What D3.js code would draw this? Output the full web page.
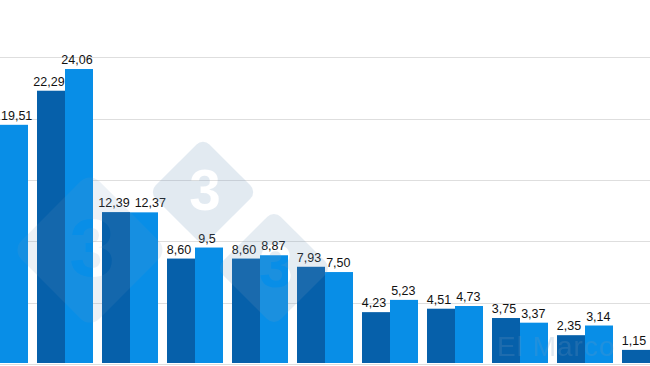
<!DOCTYPE html>
<html>
<head>
<meta charset="utf-8">
<script src="https://cdn.jsdelivr.net/npm/d3@7"></script>
<style>
  html, body { margin: 0; padding: 0; background: #fff; overflow: hidden; }
  svg { display: block; }
</style>
</head>
<body>
<svg id="chart" width="650" height="366"></svg>
<script>
// ---- data ----
const categories = ["G1", "G2", "G3", "G4", "G5", "G6", "G7", "G8", "G9", "G10", "G11"];
const seriesNames = ["serie1", "serie2"];
const serie1 = [24.5, 22.29, 12.39, 8.60, 8.60, 7.93, 4.23, 4.51, 3.75, 2.35, 1.15];
const serie2 = [19.51, 24.06, 12.37, 9.5, 8.87, 7.50, 5.23, 4.73, 3.37, 3.14, 1.7];
const labels1 = ["24,5", "22,29", "12,39", "8,60", "8,60", "7,93", "4,23", "4,51", "3,75", "2,35", "1,15"];
const labels2 = ["19,51", "24,06", "12,37", "9,5", "8,87", "7,50", "5,23", "4,73", "3,37", "3,14", "1,7"];
const yTicks = [0, 5, 10, 15, 20, 25, 30];
const watermarkText = "El Marco";

const W = 650, H = 366;
const svg = d3.select("#chart");
const colors = { serie1: "#0660aa", serie2: "#088ee7" };
const FONT = "Liberation Sans, Arial, sans-serif";

const y = d3.scaleLinear().domain([0, 30]).range([364, -3.8]);
const x = d3.scaleBand().domain(categories).range([-28, 678]).paddingInner(9 / 65).paddingOuter(0);
const xs = d3.scaleBand().domain(seriesNames).range([0, x.bandwidth()]);

// gridlines
svg.append("g").selectAll("line").data(yTicks).join("line")
  .attr("x1", 0).attr("x2", W)
  .attr("y1", d => Math.round(y(d)) + 0.5).attr("y2", d => Math.round(y(d)) + 0.5)
  .attr("stroke", "#dedede").attr("stroke-width", 1.2);

const rows = categories.map((c, i) => ({
  c,
  vals: [
    { s: "serie1", v: serie1[i], l: labels1[i] },
    { s: "serie2", v: serie2[i], l: labels2[i] }
  ]
}));

const g = svg.append("g").selectAll("g").data(rows).join("g")
  .attr("transform", d => `translate(${x(d.c)},0)`);

g.selectAll("rect").data(d => d.vals).join("rect")
  .attr("x", d => xs(d.s))
  .attr("width", xs.bandwidth())
  .attr("y", d => y(d.v))
  .attr("height", d => y(0) - 1 - y(d.v))
  .attr("fill", d => colors[d.s]);

const labelLayer = svg.append("g");
rows.forEach(r => {
  const texts = r.vals.map(d => {
    const cx = x(r.c) + xs(d.s) + xs.bandwidth() / 2 - 2;
    const t = labelLayer.append("text")
      .attr("y", y(d.v) - 5)
      .attr("text-anchor", "middle")
      .attr("font-family", FONT)
      .attr("font-size", 12.5)
      .attr("fill", "#111")
      .text(d.l);
    const w = t.node().getComputedTextLength();
    return { t, cx, w, yy: y(d.v) - 5, barCx: cx + 2 };
  });
  texts.forEach(o => {
    if (o.barCx >= 0 && o.cx - o.w / 2 < 1) o.cx = 1 + o.w / 2;
  });
  const [a, b] = texts;
  if (Math.abs(a.yy - b.yy) < 13) {
    const gap = (b.cx - b.w / 2) - (a.cx + a.w / 2);
    if (gap < 5) b.cx += 5 - gap;
  }
  texts.forEach(o => o.t.attr("x", o.cx));
});

// watermark (logo diamonds with "3" cut out, and text)
const defs = svg.append("defs");
const diamonds = [
  { cx: 90, cy: 250, r: 78, op: 0.13 },
  { cx: 203, cy: 192, r: 54, op: 0.2 },
  { cx: 274, cy: 268, r: 58, op: 0.18 }
];
diamonds.forEach((d, i) => {
  const mask = defs.append("mask").attr("id", "wm" + i);
  mask.append("rect").attr("width", W).attr("height", H).attr("fill", "black");
  const s = d.r * Math.SQRT1_2 * 2;
  mask.append("rect")
    .attr("x", -s / 2).attr("y", -s / 2).attr("width", s).attr("height", s)
    .attr("rx", s * 0.12)
    .attr("transform", `translate(${d.cx},${d.cy}) rotate(45)`)
    .attr("fill", "white");
  mask.append("text")
    .attr("x", d.cx + 2).attr("y", d.cy + d.r * 0.33)
    .attr("text-anchor", "middle")
    .attr("font-family", FONT)
    .attr("font-weight", "bold")
    .attr("font-size", d.r * 1.05)
    .attr("fill", "black")
    .text("3");
  svg.append("rect").attr("width", W).attr("height", H)
    .attr("fill", "#7499bd").attr("opacity", d.op).attr("mask", `url(#wm${i})`);
});

svg.append("text")
  .attr("x", 497).attr("y", 356)
  .attr("font-family", FONT)
  .attr("font-size", 28)
  .attr("fill", "#7499bd").attr("opacity", 0.22)
  .attr("letter-spacing", 1)
  .text(watermarkText);
</script>
</body>
</html>
